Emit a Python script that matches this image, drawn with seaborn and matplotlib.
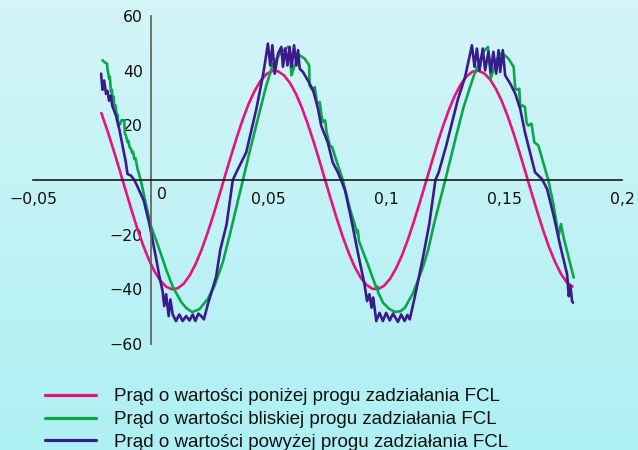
import matplotlib
matplotlib.use("Agg")
import matplotlib.pyplot as plt
import numpy as np
import pandas as pd
import seaborn as sns

# ---------------- data ----------------
series_labels = [
    "Prąd o wartości poniżej progu zadziałania FCL",
    "Prąd o wartości bliskiej progu zadziałania FCL",
    "Prąd o wartości powyżej progu zadziałania FCL",
]

pink_t = [-0.021, -0.0185, -0.016, -0.0135, -0.011, -0.0085, -0.006, -0.0035, -0.001, 0.0015,
          0.004, 0.0065, 0.009, 0.0115, 0.014, 0.0165, 0.019, 0.0215, 0.024, 0.0265,
          0.029, 0.0315, 0.034, 0.0365, 0.039, 0.0415, 0.044, 0.0465, 0.049, 0.0515,
          0.054, 0.0565, 0.059, 0.0615, 0.064, 0.0665, 0.069, 0.0715, 0.074, 0.0765,
          0.079, 0.0815, 0.084, 0.0865, 0.089, 0.0915, 0.094, 0.0965, 0.099, 0.1015,
          0.104, 0.1065, 0.109, 0.1115, 0.114, 0.1165, 0.119, 0.1215, 0.124, 0.1265,
          0.129, 0.1315, 0.134, 0.1365, 0.139, 0.1415, 0.144, 0.1465, 0.149, 0.1515,
          0.154, 0.1565, 0.159, 0.1615, 0.164, 0.1665, 0.169, 0.1715, 0.174, 0.1765, 0.179]
pink_i = [24.5, 18.3, 11.5, 4.4, -2.9, -10.1, -17.0, -23.3, -28.8, -33.3,
          -36.8, -39.0, -40.0, -39.6, -37.9, -34.9, -30.8, -25.6, -19.6, -13.0,
          -5.8, 1.5, 8.7, 15.6, 22.1, 27.8, 32.5, 36.2, 38.7, 39.9,
          39.8, 38.3, 35.6, 31.7, 26.7, 20.8, 14.3, 7.3, 0.0, -7.3,
          -14.3, -20.8, -26.7, -31.7, -35.6, -38.3, -39.8, -39.9, -38.7, -36.2,
          -32.5, -27.8, -22.1, -15.6, -8.7, -1.5, 5.8, 13.0, 19.6, 25.6,
          30.8, 34.9, 37.9, 39.6, 40.0, 39.0, 36.8, 33.3, 28.8, 23.3,
          17.0, 10.1, 2.9, -4.4, -11.5, -18.3, -24.5, -29.8, -34.2, -37.4, -39.0]

green_t = [-0.0205, -0.0195, -0.0186, -0.0184, -0.0177, -0.0174, -0.0169, -0.0165, -0.0163, -0.0158,
           -0.0155, -0.0150, -0.0144, -0.0141, -0.0138, -0.0130, -0.0124, -0.0113, -0.0110, -0.0106,
           -0.0099, -0.0095, -0.0090, -0.0084, -0.0079, -0.0075, -0.0070, -0.0065, -0.0056, -0.0042,
           -0.0020, 0.0001, 0.0036, 0.0065, 0.0093, 0.0128, 0.0150, 0.0175, 0.0206, 0.0242,
           0.0270, 0.0306, 0.0341, 0.0370, 0.0391, 0.0420, 0.0462, 0.0490, 0.0518, 0.0554,
           0.0582, 0.0589, 0.0597, 0.0611, 0.0632, 0.0653, 0.0672, 0.0674, 0.0685, 0.0689,
           0.0696, 0.0706, 0.0717, 0.0724, 0.0730, 0.0740, 0.0746, 0.0760, 0.0770, 0.0790,
           0.0815, 0.0845, 0.0865, 0.0876, 0.0879, 0.0884, 0.0921, 0.0957, 0.0962, 0.0965,
           0.0986, 0.1010, 0.1036, 0.1060, 0.1079, 0.1114, 0.1157, 0.1178, 0.1202, 0.1250,
           0.1290, 0.1327, 0.1369, 0.1412, 0.1431, 0.1436, 0.1443, 0.1469, 0.1490, 0.1518,
           0.1540, 0.1547, 0.1556, 0.1564, 0.1568, 0.1577, 0.1588, 0.1595, 0.1602, 0.1616,
           0.1628, 0.1645, 0.1687, 0.1710, 0.1731, 0.1741, 0.1752, 0.1795]
green_i = [43.8, 43.0, 42.6, 40.7, 37.1, 37.8, 32.2, 33.0, 29.7, 30.5,
           26.8, 27.3, 23.6, 24.0, 19.9, 20.5, 21.9, 21.8, 16.9, 16.4,
           13.9, 14.3, 12.0, 11.4, 9.9, 10.3, 7.7, 8.0, 4.0, -0.3,
           -9.0, -17.0, -25.3, -32.7, -39.0, -44.5, -46.8, -48.3, -47.3, -43.5,
           -38.8, -30.0, -18.0, -7.5, 0.0, 10.5, 25.0, 34.5, 42.3, 46.9,
           48.7, 48.1, 38.3, 42.0, 45.6, 44.4, 42.0, 34.6, 33.0, 32.8,
           34.0, 27.9, 28.5, 24.0, 21.2, 21.8, 17.5, 12.6, 12.0, 6.5,
           0.0, -10.5, -16.1, -19.5, -18.5, -22.5, -30.8, -39.4, -39.0, -41.2,
           -44.9, -47.0, -48.3, -48.0, -46.7, -41.2, -31.4, -25.3, -16.1, 0.0,
           14.0, 26.5, 37.7, 46.9, 48.7, 45.0, 37.1, 44.4, 46.5, 44.4,
           41.4, 33.4, 33.0, 33.4, 26.7, 27.3, 26.7, 21.0, 19.9, 20.6,
           13.8, 12.6, 0.0, -9.4, -20.4, -16.1, -21.0, -35.7]

purple_t = [-0.0211, -0.0205, -0.0198, -0.0190, -0.0184, -0.0177, -0.0170, -0.0163, -0.0148, -0.0134,
            -0.0120, -0.0106, -0.0099, -0.0084, -0.0070, -0.0056, -0.0030, -0.0006, 0.0022, 0.0036,
            0.0050, 0.0057, 0.0065, 0.0076, 0.0083, 0.0093, 0.0107, 0.0121, 0.0135, 0.0150,
            0.0164, 0.0178, 0.0189, 0.0202, 0.0214, 0.0225, 0.0242, 0.0277, 0.0295, 0.0322,
            0.0348, 0.0363, 0.0405, 0.0448, 0.0476, 0.0483, 0.0497, 0.0507, 0.0516, 0.0526,
            0.0540, 0.0554, 0.0561, 0.0571, 0.0580, 0.0589, 0.0598, 0.0608, 0.0618, 0.0625,
            0.0632, 0.0646, 0.0667, 0.0689, 0.0710, 0.0723, 0.0751, 0.0772, 0.0794, 0.0808,
            0.0825, 0.0850, 0.0880, 0.0907, 0.0918, 0.0928, 0.0937, 0.0944, 0.0957, 0.0971,
            0.0985, 0.0999, 0.1014, 0.1028, 0.1049, 0.1063, 0.1077, 0.1089, 0.1099, 0.1120,
            0.1155, 0.1182, 0.1208, 0.1222, 0.1254, 0.1304, 0.1334, 0.1363, 0.1374, 0.1384,
            0.1395, 0.1409, 0.1419, 0.1433, 0.1443, 0.1454, 0.1466, 0.1476, 0.1483, 0.1494,
            0.1504, 0.1526, 0.1547, 0.1568, 0.1588, 0.1631, 0.1660, 0.1682, 0.1710, 0.1738,
            0.1767, 0.1774, 0.1781, 0.1788, 0.1792]
purple_i = [38.9, 33.0, 36.4, 31.5, 32.6, 29.0, 30.9, 27.0, 23.6, 18.7,
            12.6, 6.5, 2.2, 1.6, 0.0, -2.5, -7.5, -16.1, -28.4, -35.1,
            -40.6, -46.1, -41.8, -49.8, -43.7, -49.2, -51.6, -49.2, -51.6, -49.8,
            -51.4, -49.2, -51.6, -48.9, -49.8, -51.0, -45.5, -35.5, -25.5, -16.1,
            0.0, 2.8, 10.1, 26.0, 38.3, 41.9, 49.9, 41.9, 49.3, 38.9,
            46.2, 48.7, 41.4, 48.1, 41.9, 48.7, 41.4, 49.3, 41.9, 47.5,
            40.7, 39.5, 36.4, 32.8, 26.0, 19.9, 13.8, 6.5, 2.8, 0.0,
            -4.0, -14.0, -27.0, -38.2, -44.3, -41.8, -46.7, -43.0, -51.6, -48.6,
            -51.6, -48.6, -51.4, -48.9, -51.9, -49.2, -51.6, -49.4, -51.0, -43.0,
            -28.4, -16.1, 0.0, 2.8, 12.6, 29.7, 37.7, 49.3, 41.4, 48.1,
            40.1, 48.1, 40.1, 46.9, 39.5, 46.9, 38.9, 47.5, 39.5, 47.5,
            38.3, 35.2, 31.6, 26.0, 17.5, 2.8, 0.4, -3.3, -13.1, -24.1,
            -34.5, -42.5, -38.8, -44.3, -44.9]

x_tick_vals = [-0.05, 0.05, 0.1, 0.15, 0.2]
x_tick_labels = ["\u22120,05", "0,05", "0,1", "0,15", "0,2"]
y_tick_vals = [60, 40, 20, -20, -40, -60]
y_tick_labels = ["60", "40", "20", "\u221220", "\u221240", "\u221260"]
origin_label = "0"

colors = ["#e8127c", "#0ba64a", "#3b1a8c"]

# ---------------- figure ----------------
sns.set_theme(style="white")
plt.rcParams["font.family"] = ["DejaVu Sans"]

W, H = 638, 450
fig = plt.figure(figsize=(W / 100, H / 100), dpi=100)

# background gradient
bg = fig.add_axes([0, 0, 1, 1], zorder=0)
top = np.array([212, 245, 248]) / 255.0
bot = np.array([174, 240, 243]) / 255.0
f = np.linspace(0, 1, 256)[:, None, None]
grad = top[None, None, :] * (1 - f) + bot[None, None, :] * f
bg.imshow(grad, aspect="auto", extent=[0, 1, 0, 1], interpolation="bilinear")
bg.set_axis_off()

ax = fig.add_axes([33 / W, 1 - 344 / H, 589 / W, 328 / H], zorder=1)
ax.patch.set_alpha(0)

for t, i, c, lbl in [(pink_t, pink_i, colors[0], series_labels[0]),
                     (green_t, green_i, colors[1], series_labels[1]),
                     (purple_t, purple_i, colors[2], series_labels[2])]:
    df = pd.DataFrame({"t": t, "i": i})
    sns.lineplot(data=df, x="t", y="i", ax=ax, color=c, lw=1.9, sort=False,
                 estimator=None, label=lbl)

ax.set_xlim(-0.05, 0.2)
ax.set_ylim(-60, 60)
ax.set_xlabel("")
ax.set_ylabel("")
for s in ["top", "right"]:
    ax.spines[s].set_visible(False)
ax.spines["left"].set_position(("data", 0))
ax.spines["bottom"].set_position(("data", 0))
ax.spines["left"].set_color("#5c5c5c")
ax.spines["bottom"].set_color("#1a1a1a")
ax.spines["left"].set_linewidth(1.2)
ax.spines["bottom"].set_linewidth(1.2)

ax.set_xticks(x_tick_vals)
ax.set_xticklabels(x_tick_labels)
ax.set_yticks(y_tick_vals)
ax.set_yticklabels(y_tick_labels)
ax.tick_params(axis="x", direction="out", length=4, width=1.1, pad=4.5,
               labelsize=11.3, color="#1a1a1a", labelcolor="#111111")
ax.tick_params(axis="y", direction="out", length=4.3, width=1.1, pad=1.5,
               labelsize=11.3, color="#5c5c5c", labelcolor="#111111")
ax.annotate(origin_label, xy=(0, 0), xycoords="data", xytext=(8.2, -5),
            textcoords="offset points", ha="center", va="top",
            fontsize=11.3, color="#111111")

handles, labels = ax.get_legend_handles_labels()
ax.get_legend().remove()
leg = fig.legend(handles, labels, loc="upper left",
                 bbox_to_anchor=(45 / W, 1 - 388 / H), frameon=False,
                 borderpad=0, borderaxespad=0, handlelength=2.72,
                 handletextpad=0.97, labelspacing=0.31,
                 prop={"family": "Liberation Sans", "size": 13.5})
for ln in leg.get_lines():
    ln.set_linewidth(2.3)
for txt in leg.get_texts():
    txt.set_color("#111111")

fig.savefig("out.png", dpi=100)
